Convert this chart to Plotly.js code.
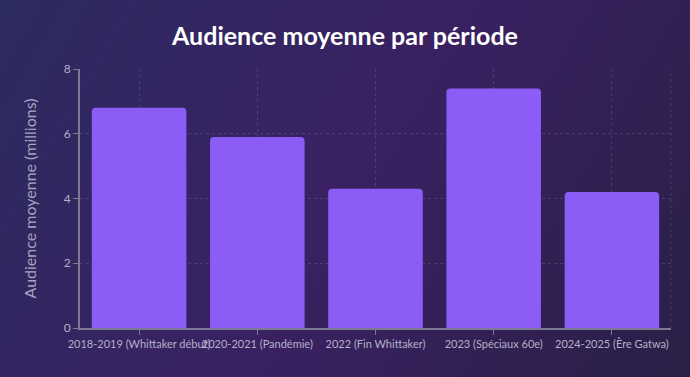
<!DOCTYPE html>
<html>
<head>
<meta charset="utf-8">
<script src="https://cdn.plot.ly/plotly-3.0.1.min.js"></script>
<style>
html, body { margin: 0; padding: 0; width: 690px; height: 377px; overflow: hidden; }
body { background: linear-gradient(120deg, #2c2b5f 0%, #3a2162 50%, #2a1f46 100%); }
#chart { width: 690px; height: 377px; }
</style>
</head>
<body>
<div id="chart"></div>
<script>
const categories = [
  "2018-2019 (Whittaker début)",
  "2020-2021 (Pandémie)",
  "2022 (Fin Whittaker)",
  "2023 (Spéciaux 60e)",
  "2024-2025 (Ère Gatwa)"
];
const audience = [6.8, 5.9, 4.3, 7.4, 4.2];
const yTicks = [0, 2, 4, 6, 8];

const FONT = "Lato, 'Open Sans', sans-serif";

const trace = {
  type: "bar",
  x: categories,
  y: audience,
  marker: { color: "#8b5cf6", cornerradius: 4 },
  hoverinfo: "x+y"
};

const gridColor = "rgba(255,255,255,0.12)";

const layout = {
  width: 690,
  height: 377,
  paper_bgcolor: "rgba(0,0,0,0)",
  plot_bgcolor: "rgba(0,0,0,0)",
  margin: { l: 80, r: 19, t: 69, b: 49 },
  bargap: 0.2,
  showlegend: false,
  font: { family: FONT, color: "#b4b0c8" },
  title: {
    text: "<b>Audience moyenne par période</b>",
    font: { family: FONT, size: 25, color: "#ffffff" },
    x: 0.5, xanchor: "center",
    y: 0.905, yanchor: "middle"
  },
  xaxis: {
    type: "category",
    tickfont: { size: 11, color: "#b4b0c8" },
    showgrid: true,
    gridcolor: gridColor,
    griddash: "3px,3px",
    showline: true,
    linecolor: "#7d7896",
    linewidth: 2,
    ticks: "outside",
    ticklen: 5,
    tickcolor: "#7d7896",
    tickangle: 0,
    automargin: false
  },
  yaxis: {
    range: [0, 8],
    tickvals: yTicks,
    tickfont: { size: 12, color: "#b4b0c8" },
    title: { text: "Audience moyenne (millions)", font: { size: 16, color: "#a9a5c0" }, standoff: 23 },
    showgrid: true,
    gridcolor: gridColor,
    griddash: "3px,3px",
    zeroline: false,
    showline: true,
    linecolor: "#7d7896",
    linewidth: 2,
    ticks: "outside",
    ticklen: 5,
    tickcolor: "#7d7896",
    automargin: false
  },
  shapes: [{
    type: "line", xref: "paper", yref: "paper",
    x0: 1, x1: 1, y0: 0, y1: 1,
    line: { color: gridColor, width: 1, dash: "3px,3px" }
  }]
};

Plotly.newPlot("chart", [trace], layout, { displayModeBar: false, responsive: false });
</script>
</body>
</html>
